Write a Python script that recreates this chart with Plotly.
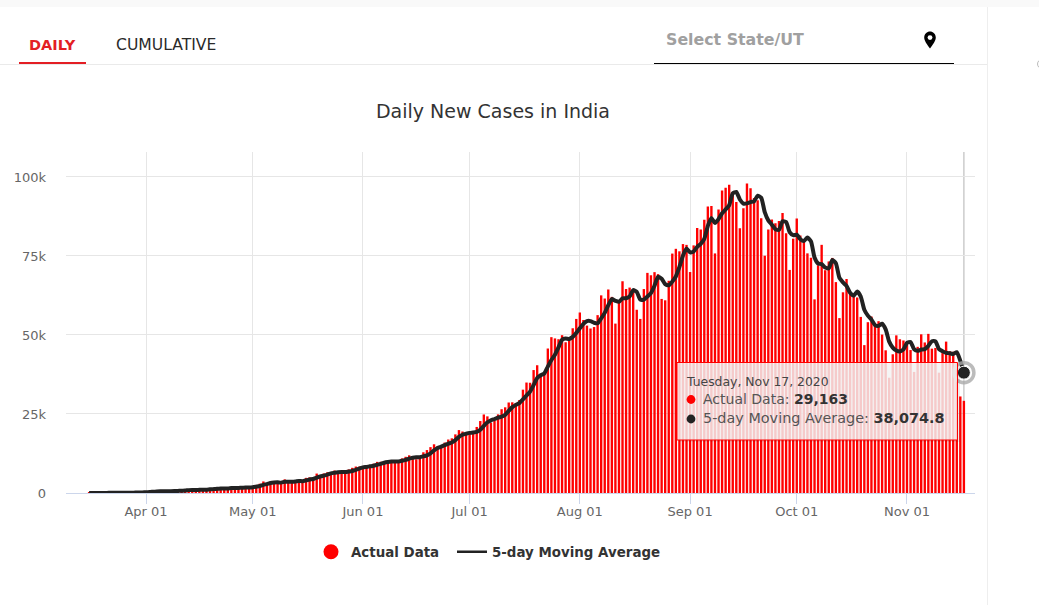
import pandas as pd
import plotly.graph_objects as go

# ---- data ----
actual_mar = [13,10,14,20,50,80,70,100,80,90,75,150,190,100,225,300]
actual_apr = [424,486,560,579,609,484,573,565,813,871,854,758,1243,1031,886,1061,922,1371,1580,1239,1537,1292,1667,1408,1835,1607,1568,1902,1705,1801]
actual_may = [1993,2564,2952,3656,2971,3602,3344,3339,3175,4311,3592,3562,3726,3991,3808,4794,4970,4630,6147,5553,6198,6568,6629,7113,6414,6535,6387,7466,7964,8364,8380]
actual_jun = [8392,8171,8909,9304,9851,9887,9971,9983,9987,9985,9996,10956,11458,11929,11502,10667,10974,12881,13586,14516,15413,14821,14933,15968,16922,17296,18552,19906,19459,18522]
actual_jul = [18653,19148,20903,22771,24850,24248,22252,22879,24879,26506,27114,28637,28701,28498,29429,32695,34956,34884,38902,40425,37148,37724,45720,49310,48916,48661,49931,47703,48513,52123,55079]
actual_aug = [57118,54736,52972,52050,52509,56282,62538,61537,64399,62064,53601,60963,66999,64553,65002,63489,57981,55079,64531,69652,68898,69878,69239,61408,60975,67151,75760,77266,76472,78761,78512]
actual_sep = [69921,78357,83883,83341,86432,90632,90802,75809,89706,95735,96551,97570,94372,92071,83809,90123,97894,96424,93337,92605,86961,75083,83347,86508,85362,86052,88600,82170,70589,80472]
actual_oct = [86821,81484,79476,75829,74442,61267,72049,78524,70496,73272,74383,66732,55342,63509,67708,63371,62212,61871,55722,46790,54044,55838,53370,54366,50129,45149,36469,43893,49881,48648,48268]
actual_nov = [46964,45231,38310,46253,50210,47638,50356,45674,45903,38073,44281,47905,44879,44684,41100,30548,29163]

avg_mar = [13,12,12,14,21,35,47,64,76,84,83,99,117,121,148,193]
avg_apr = [248,307,399,470,532,544,561,562,609,661,735,772,908,951,954,996,1029,1054,1164,1235,1330,1404,1463,1429,1548,1562,1617,1664,1723,1717]
avg_may = [1794,1993,2203,2593,2827,3149,3305,3382,3286,3554,3552,3596,3673,3836,3736,3976,4258,4439,4870,5219,5500,5819,6219,6412,6584,6652,6616,6783,6953,7343,7712]
avg_jun = [8113,8254,8443,8631,8925,9224,9584,9799,9936,9963,9984,10181,10476,10865,11168,11302,11306,11591,11922,12525,13474,14243,14654,15130,15611,15988,16734,17729,18427,18747]
avg_jul = [19018,19138,19337,19999,21265,22384,23005,23400,23822,24153,24726,26003,27167,27891,28476,29592,30856,32092,34173,36372,37263,37817,39984,42065,43764,46066,48508,48904,48745,49386,50670]
avg_aug = [52107,53514,54406,54391,53877,53710,55270,56983,59453,61364,60828,60513,61605,61636,62224,64201,63605,61221,61216,62146,63228,65608,68440,67815,66080,65730,66907,68512,71525,75082,77354]
avg_sep = [76186,76405,77887,78803,80387,84529,87018,85403,86676,88537,89721,91074,94787,95260,92875,91589,91654,92064,92317,94077,93444,88882,86267,84901,83452,83270,85974,85738,82555,81577]
avg_oct = [81730,80307,79768,80816,79610,74500,72613,72422,71356,71122,73745,72681,68045,66648,65535,63332,62428,63734,62177,57993,56128,54853,53153,52882,53549,51770,47897,46001,45104,44788,45432]
avg_nov = [47531,47798,45484,45005,45394,45528,46553,48026,47956,45529,44857,44367,44208,43964,44570,41823,38074.8]

y_ticks = [0, 25000, 50000, 75000, 100000]
y_labels = ["0", "25k", "50k", "75k", "100k"]
name_actual = "Actual Data"
name_avg = "5-day Moving Average"
hover_date = "2020-11-17"
hover_label = "Tuesday, Nov 17, 2020"
hover_actual = "29,163"
hover_avg = "38,074.8"

actual = actual_mar + actual_apr + actual_may + actual_jun + actual_jul + actual_aug + actual_sep + actual_oct + actual_nov
moving = avg_mar + avg_apr + avg_may + avg_jun + avg_jul + avg_aug + avg_sep + avg_oct + avg_nov
dates = pd.date_range("2020-03-16", hover_date, freq="D")

# ---- layout geometry (page pixels) ----
W, H = 1039, 605
L, R, T, B = 66, 975, 152, 493
def px(x): return (x - L) / (R - L)
def py(y): return (B - y) / (B - T)

FONT = "DejaVu Sans"

def rect(x0, y0, x1, y1, fill, layer="below", line=None):
    return dict(type="rect", xref="paper", yref="paper", x0=px(x0), x1=px(x1), y0=py(y1), y1=py(y0),
                fillcolor=fill, line=dict(width=0) if line is None else line, layer=layer)

def dot(cx, cy, r, fill):
    return dict(type="circle", xref="paper", yref="paper", layer="above", fillcolor=fill, line=dict(width=0),
                x0=px(cx - r), x1=px(cx + r), y0=py(cy + r), y1=py(cy - r))

def text(x, y, s, size, color, anchor="left", font=FONT, weight=None):
    f = dict(family=font, size=size, color=color)
    if weight:
        f["weight"] = weight
    return dict(xref="paper", yref="paper", x=px(x), y=py(y), text=s, showarrow=False, xanchor=anchor,
                yanchor="middle", align="left", font=f, borderpad=0)

fig = go.Figure()
fig.add_trace(go.Bar(x=dates, y=actual, name=name_actual, marker=dict(color="#ff0000", line=dict(width=0)),
                     showlegend=False))
fig.add_trace(go.Scatter(x=[None], y=[None], mode="markers", name=name_actual, legend="legend",
                         marker=dict(color="#ff0000", size=15, symbol="circle")))
fig.add_trace(go.Scatter(x=dates, y=moving, mode="lines", name=name_avg, showlegend=False,
                         line=dict(color="#222222", width=4, shape="spline", smoothing=0.55)))
fig.add_trace(go.Scatter(x=[None], y=[None], mode="lines", name=name_avg, legend="legend2",
                         line=dict(color="#222222", width=2.5)))
fig.add_trace(go.Scatter(x=dates[-1:], y=moving[-1:], mode="markers", showlegend=False, cliponaxis=False,
                         marker=dict(color="rgba(0,0,0,0)", size=20, line=dict(color="rgba(170,170,170,0.8)", width=3.5))))
fig.add_trace(go.Scatter(x=dates[-1:], y=moving[-1:], mode="markers", showlegend=False, cliponaxis=False,
                         marker=dict(color="#222222", size=13, line=dict(color="#ffffff", width=1))))

shapes = [
    rect(0, 0, W, 7, "#f9f9f9"),
    rect(987, 7, 988, H, "#eeeeee"),
    rect(0, 64, 987, 65, "#eaeaea"),
    rect(19, 62, 86, 64, "#e31e24", layer="above"),
    rect(654, 63, 954, 64, "#000000", layer="above"),
    dict(type="circle", xref="paper", yref="paper", layer="below", fillcolor="rgba(0,0,0,0)",
         line=dict(color="#bbbbbb", width=1), x0=px(1037.5), x1=px(1049), y0=py(69), y1=py(59)),
    dict(type="line", xref="x", yref="paper", x0=hover_date, x1=hover_date, y0=0, y1=1,
         line=dict(color="#c4c4c4", width=1.3), layer="between"),
    # tooltip box
    rect(679, 364, 960, 442, "rgba(0,0,0,0.07)", layer="above"),
    rect(677, 362.5, 957.5, 440, "rgba(247,247,247,0.82)", layer="above",
         line=dict(color="#ff0000", width=1)),
    dot(691, 399.5, 4.4, "#ff0000"),
    dot(691, 419, 4.4, "#222222"),
    # location pin
    dict(type="path", xref="paper", yref="paper", layer="above", fillcolor="#000000", line=dict(width=0),
         path=(f"M {px(930)} {py(48.5)} C {px(927)} {py(44)} {px(924.2)} {py(41)} {px(924.2)} {py(37.5)} "
               f"C {px(924.2)} {py(34)} {px(927)} {py(31.5)} {px(930)} {py(31.5)} "
               f"C {px(933)} {py(31.5)} {px(935.8)} {py(34)} {px(935.8)} {py(37.5)} "
               f"C {px(935.8)} {py(41)} {px(933)} {py(44)} {px(930)} {py(48.5)} Z")),
    dict(type="circle", xref="paper", yref="paper", layer="above", fillcolor="#ffffff", line=dict(width=0),
         x0=px(927.6), x1=px(932.4), y0=py(40), y1=py(35.2)),
]

annotations = [
    text(28, 45, "DAILY", 14.5, "#e31e24", weight=600),
    text(115, 45, "CUMULATIVE", 15.6, "#2a2a2a"),
    text(665, 39.5, "Select State/UT", 15.8, "#a0a0a0", weight=600),
    text(684.5, 381, hover_label, 12.4, "#444444"),
    text(702, 399, f'Actual Data: <b style="color:#333333">{hover_actual}</b>', 14, "#555555"),
    text(702, 418, f'{name_avg}: <b style="color:#333333">{hover_avg}</b>', 14.4, "#555555"),
]

legend_font = dict(family=FONT, size=13.4, color="#333333", weight="bold")
fig.update_layout(
    width=W, height=H, autosize=False,
    margin=dict(l=L, r=W - R, t=T, b=H - B, pad=0),
    paper_bgcolor="#ffffff", plot_bgcolor="#ffffff",
    font=dict(family=FONT, color="#666666", size=13),
    bargap=0.33, hovermode=False,
    title=dict(text="Daily New Cases in India", xref="container", yref="container", x=493 / W, xanchor="center",
               y=1 - 111 / H, yanchor="middle", font=dict(family=FONT, size=19, color="#333333")),
    xaxis=dict(type="date", range=["2020-03-09 12:00", "2020-11-20 03:00"], tick0="2020-04-01", dtick="M1",
               tickformat="%b %d", showgrid=True, gridcolor="#e6e6e6", gridwidth=1, zeroline=False,
               showline=True, linecolor="#ccd6eb", linewidth=1, ticks="outside", ticklen=10, tickcolor="#ccd6eb",
               ticklabelstandoff=-4, tickfont=dict(size=13, color="#666666")),
    yaxis=dict(range=[0, 107900], tickmode="array", tickvals=y_ticks, ticktext=y_labels, showgrid=True,
               gridcolor="#e6e6e6", gridwidth=1, zeroline=False, showline=False, ticks="", ticklabelstandoff=19,
               tickfont=dict(size=13, color="#666666")),
    legend=dict(orientation="h", x=px(311), xanchor="left", y=py(552), yanchor="middle", itemsizing="trace",
                font=legend_font, bgcolor="rgba(0,0,0,0)"),
    legend2=dict(orientation="h", x=px(452), xanchor="left", y=py(552), yanchor="middle",
                 font=legend_font, bgcolor="rgba(0,0,0,0)"),
    shapes=shapes, annotations=annotations,
)

fig.write_html("out.html", config=dict(displayModeBar=False),
               post_script="document.body.style.margin='0';document.body.style.overflow='hidden';")
